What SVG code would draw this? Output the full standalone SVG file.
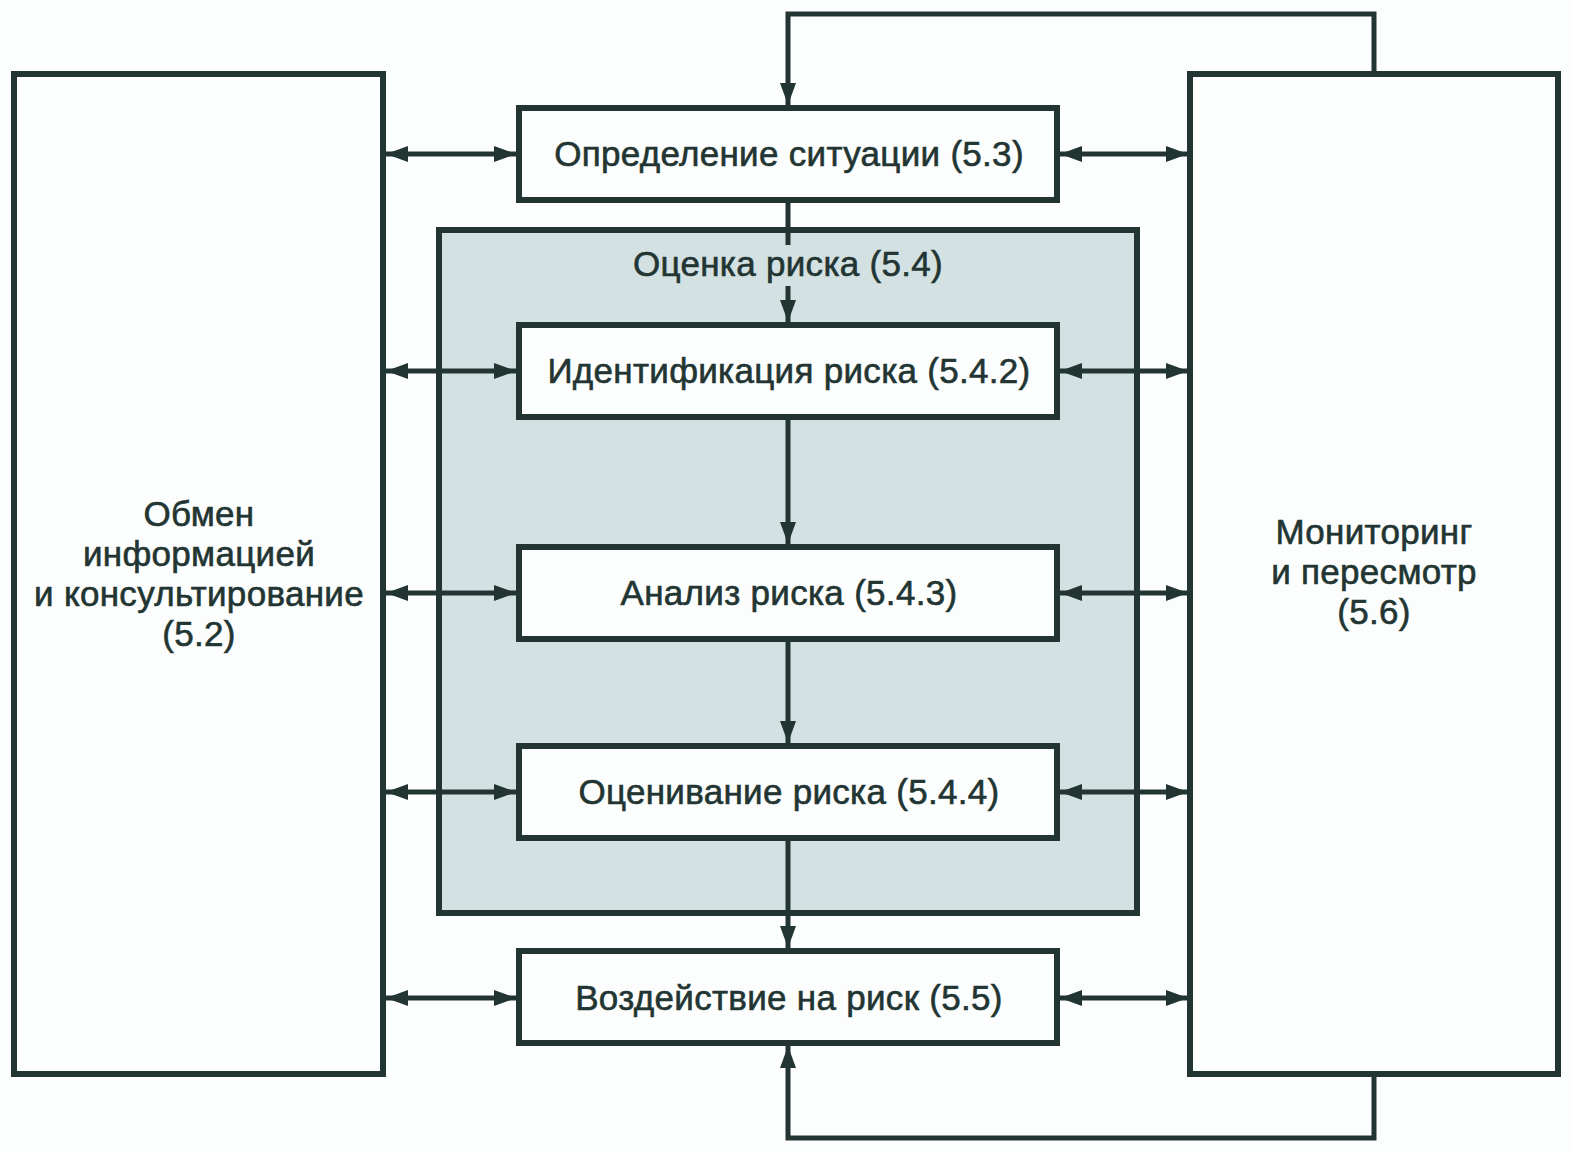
<svg xmlns="http://www.w3.org/2000/svg" width="1572" height="1152" viewBox="0 0 1572 1152">
<style>
.box{fill:#fcfefd;stroke:#223533;stroke-width:6}
.grp{fill:#d4e1e2;stroke:#223533;stroke-width:6}
.ln{fill:none;stroke:#223533;stroke-width:5}
text{font-family:"Liberation Sans",Arial,sans-serif;font-size:35px;letter-spacing:0.3px;fill:#223533;stroke:#223533;stroke-width:0.6;text-anchor:middle}
</style>
<defs>
<marker id="ah" markerUnits="userSpaceOnUse" viewBox="0 0 22 16" refX="22" refY="8" markerWidth="22" markerHeight="16" orient="auto-start-reverse">
<path d="M0,0 L22,8 L0,16 Z" fill="#223533"/>
</marker>
</defs>
<rect width="1572" height="1152" fill="#fcfefd"/>
<g id="assessment">
<rect class="grp" x="439" y="230" width="698" height="683"/>
<text x="788" y="276">Оценка риска (5.4)</text>
</g>
<g id="communication">
<rect class="box" x="14" y="74" width="369" height="1000"/>
<text x="199" y="526">Обмен</text>
<text x="199" y="566">информацией</text>
<text x="199" y="606">и консультирование</text>
<text x="199" y="646">(5.2)</text>
</g>
<g id="monitoring">
<rect class="box" x="1190" y="74" width="368" height="1000"/>
<text x="1374" y="544">Мониторинг</text>
<text x="1374" y="584">и пересмотр</text>
<text x="1374" y="624">(5.6)</text>
</g>
<g id="context">
<rect class="box" x="519" y="108" width="538" height="92"/>
<text x="789" y="166">Определение ситуации (5.3)</text>
</g>
<g id="identification">
<rect class="box" x="519" y="325" width="538" height="92"/>
<text x="789" y="383">Идентификация риска (5.4.2)</text>
</g>
<g id="analysis">
<rect class="box" x="519" y="547" width="538" height="92"/>
<text x="789" y="605">Анализ риска (5.4.3)</text>
</g>
<g id="evaluation">
<rect class="box" x="519" y="746" width="538" height="92"/>
<text x="789" y="804">Оценивание риска (5.4.4)</text>
</g>
<g id="treatment">
<rect class="box" x="519" y="951" width="538" height="92"/>
<text x="789" y="1010">Воздействие на риск (5.5)</text>
</g>
<g id="connectors">
<path class="ln" d="M1374,74 V14 H788 V105" marker-end="url(#ah)"/>
<path class="ln" d="M1374,1074 V1138 H788 V1046" marker-end="url(#ah)"/>
<path class="ln" d="M788,200 V245"/>
<path class="ln" d="M788,286 V322" marker-end="url(#ah)"/>
<path class="ln" d="M788,417 V544" marker-end="url(#ah)"/>
<path class="ln" d="M788,639 V743" marker-end="url(#ah)"/>
<path class="ln" d="M788,838 V948" marker-end="url(#ah)"/>
<path class="ln" d="M386,154 H516" marker-start="url(#ah)" marker-end="url(#ah)"/>
<path class="ln" d="M386,371 H516" marker-start="url(#ah)" marker-end="url(#ah)"/>
<path class="ln" d="M386,593 H516" marker-start="url(#ah)" marker-end="url(#ah)"/>
<path class="ln" d="M386,792 H516" marker-start="url(#ah)" marker-end="url(#ah)"/>
<path class="ln" d="M386,998 H516" marker-start="url(#ah)" marker-end="url(#ah)"/>
<path class="ln" d="M1060,154 H1188" marker-start="url(#ah)" marker-end="url(#ah)"/>
<path class="ln" d="M1060,371 H1188" marker-start="url(#ah)" marker-end="url(#ah)"/>
<path class="ln" d="M1060,593 H1188" marker-start="url(#ah)" marker-end="url(#ah)"/>
<path class="ln" d="M1060,792 H1188" marker-start="url(#ah)" marker-end="url(#ah)"/>
<path class="ln" d="M1060,998 H1188" marker-start="url(#ah)" marker-end="url(#ah)"/>
</g>
</svg>
